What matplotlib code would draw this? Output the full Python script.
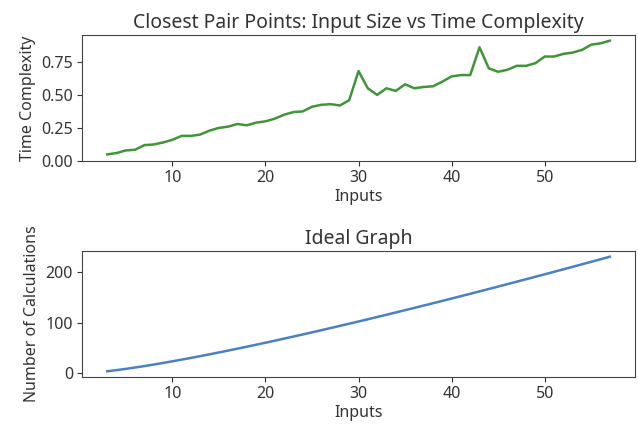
import matplotlib
matplotlib.use("Agg")
import matplotlib.pyplot as plt

plt.rcParams['font.family'] = ['Noto Sans', 'DejaVu Sans']

inputs = list(range(3, 58))
time_complexity = [0.05, 0.06, 0.08, 0.085, 0.12, 0.125, 0.14, 0.16, 0.19, 0.19,
                   0.20, 0.23, 0.25, 0.26, 0.28, 0.27, 0.29, 0.30, 0.32, 0.35,
                   0.37, 0.375, 0.41, 0.425, 0.43, 0.42, 0.46, 0.68, 0.55, 0.50,
                   0.55, 0.53, 0.58, 0.55, 0.56, 0.565, 0.60, 0.64, 0.65, 0.65,
                   0.86, 0.70, 0.675, 0.69, 0.72, 0.72, 0.74, 0.79, 0.79, 0.81,
                   0.82, 0.84, 0.88, 0.89, 0.91]
ideal_calcs = [3.30, 5.55, 8.05, 10.75, 13.62, 16.64, 19.78, 23.03, 26.38, 29.82,
               33.34, 36.95, 40.62, 44.36, 48.16, 52.03, 55.94, 59.91, 63.93, 68.00,
               72.12, 76.27, 80.47, 84.71, 88.99, 93.30, 97.65, 102.04, 106.45, 110.90,
               115.38, 119.90, 124.44, 129.01, 133.60, 138.23, 142.88, 147.56, 152.26, 156.98,
               161.73, 166.51, 171.30, 176.12, 180.96, 185.82, 190.70, 195.60, 200.52, 205.46,
               210.43, 215.41, 220.40, 225.42, 230.45]

W, H = 638, 425
fig = plt.figure(figsize=(W / 100, H / 100), dpi=100)

L, R = 82, 635
ax1 = fig.add_axes([L / W, 1 - 161 / H, (R - L) / W, (161 - 35) / H])
ax2 = fig.add_axes([L / W, 1 - 377 / H, (R - L) / W, (377 - 251) / H])

txt = "#333333"
ax1.plot(inputs, time_complexity, color="#3f9537", linewidth=1.8)
ax1.set_title("Closest Pair Points: Input Size vs Time Complexity", fontsize=14, color=txt, pad=5)
ax1.set_xlabel("Inputs", fontsize=11.5, color=txt, labelpad=2)
ax1.set_ylabel("Time Complexity", fontsize=11.5, color=txt, labelpad=4)
ax1.set_yticks([0.0, 0.25, 0.5, 0.75])

ax2.plot(inputs, ideal_calcs, color="#4a80c4", linewidth=1.8)
ax2.set_title("Ideal Graph", fontsize=14, color=txt, pad=5)
ax2.set_xlabel("Inputs", fontsize=11.5, color=txt, labelpad=2)
ax2.set_ylabel("Number of Calculations", fontsize=11.5, color=txt, labelpad=4)
ax2.set_yticks([0, 100, 200])

for ax in (ax1, ax2):
    ax.set_xticks([10, 20, 30, 40, 50])
    ax.tick_params(labelsize=11.5, colors=txt, pad=3)
    for s in ax.spines.values():
        s.set_color("#444444")

fig.savefig("out.png", dpi=100)
